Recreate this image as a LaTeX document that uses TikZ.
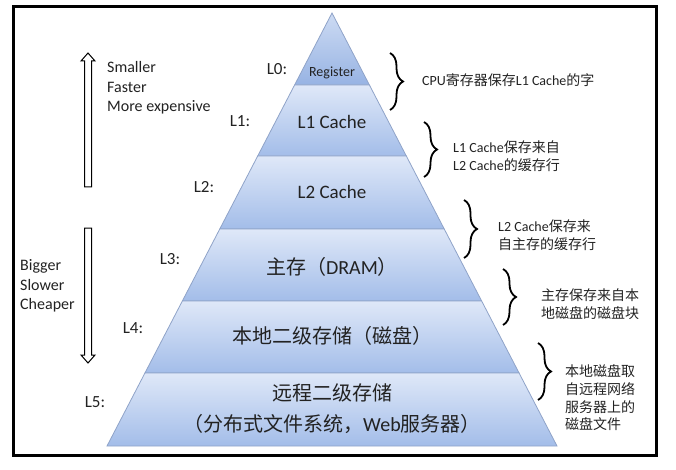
\documentclass[tikz,border=0pt]{standalone}
\usepackage{fontspec}
\setmainfont{Carlito}
\newfontfamily\cjk{Noto Sans CJK SC}
\usepackage{xcolor,tikz}
\usetikzlibrary{decorations.pathreplacing,positioning}
\newcommand{\zh}[1]{{\cjk #1}}
\definecolor{regtop}{HTML}{CDDBF3}
\definecolor{regbot}{HTML}{97B3E3}
\definecolor{bandtop}{HTML}{DFE8F8}
\definecolor{bandbot}{HTML}{A3BDE9}
\definecolor{bandline}{HTML}{8FA3C8}
\definecolor{txt}{HTML}{222222}
\tikzset{
  band/.style={draw=bandline,line width=0.8pt},
  lvl/.style={text=txt,font=\fontsize{17}{19}\selectfont,inner sep=0pt},
  bandcap/.style={text=txt,font=\fontsize{19}{22}\selectfont,inner sep=0pt},
  bandzh/.style={text=txt,font=\fontsize{20}{23}\selectfont,inner sep=0pt},
  side/.style={text=txt,align=left,anchor=west,inner sep=0pt,font=\fontsize{16}{19.5}\selectfont},
  note/.style={text=txt,align=left,anchor=west,inner sep=0pt,font=\fontsize{14}{18}\selectfont},
  notezh/.style={text=txt,align=left,anchor=west,inner sep=0pt,font=\fontsize{14}{17.6}\selectfont},
  brc/.style={decorate,decoration={brace,amplitude=13pt},line width=1.8pt},
  hollow/.style={draw,line width=1pt,fill=white,line join=miter}
}
\begin{document}
\begin{tikzpicture}[x=1pt,y=-1pt]
\useasboundingbox (0,0) rectangle (676,470);
\draw[line width=3pt] (13,7) rectangle (656,455);
\foreach \ya/\yb/\ca/\cb in {13/85/regtop/regbot,85/156/bandtop/bandbot,156/229/bandtop/bandbot,229/301/bandtop/bandbot,301/373/bandtop/bandbot,373/446/bandtop/bandbot}{
  \pgfmathsetmacro{\wa}{(\ya-13)*0.5196}\pgfmathsetmacro{\wb}{(\yb-13)*0.5196}
  \shade[band,top color=\ca,bottom color=\cb] (332-\wa,\ya) -- (332+\wa,\ya) -- (332+\wb,\yb) -- (332-\wb,\yb) -- cycle;
}
\node[text=txt,font=\fontsize{14}{16}\selectfont,inner sep=0pt] (reg) at (332,73){Register};
\node[bandcap] (l1c) at (332,122){L1 Cache};
\node[bandcap] (l2c) at (332,192){L2 Cache};
\node[bandzh] (dram) at (332,267){\zh{主存（}DRAM\zh{）}};
\node[bandzh] (disk) at (332,336){\zh{本地二级存储（磁盘）}};
\node[bandzh] (remote) at (332,393){\zh{远程二级存储}};
\node[bandzh] (remote2) at (332,424){\zh{（分布式文件系统，}Web\zh{服务器）}};
\node[lvl] (lv0) at (277,69){L0:};
\node[lvl] (lv1) at (240,121){L1:};
\node[lvl] (lv2) at (204,187){L2:};
\node[lvl] (lv3) at (170,259){L3:};
\node[lvl] (lv4) at (133,328){L4:};
\node[lvl] (lv5) at (95,402){L5:};
\foreach \x/\ya/\yb in {390/53/110,424/122/177,464/200/258,503/269/325,538/343/400}{
  \draw[brc] (\x,\ya) -- (\x,\yb);
}
\node[note] (n0) at (422,80){CPU\zh{寄存器保存}L1 Cache\zh{的字}};
\node[note] (n1) at (453,156){L1 Cache\zh{保存来自}\\L2 Cache\zh{的缓存行}};
\node[note] (n2) at (498,235){L2 Cache\zh{保存来}\\\zh{自主存的缓存行}};
\node[notezh] (n3) at (541,304){\zh{主存保存来自本}\\\zh{地磁盘的磁盘块}};
\node[notezh] (n4) at (565,398){\zh{本地磁盘取}\\\zh{自远程网络}\\\zh{服务器上的}\\\zh{磁盘文件}};
\draw[hollow] (84.5,187) -- (84.5,61) -- (81,61) -- (88,53) -- (95,61) -- (91.5,61) -- (91.5,187) -- cycle;
\draw[hollow] (84.5,228) -- (84.5,355) -- (81,355) -- (88,363) -- (95,355) -- (91.5,355) -- (91.5,228) -- cycle;
\node[side] (up) at (107,88){Smaller\\Faster\\More expensive};
\node[side] (down) at (20,286){Bigger\\Slower\\Cheaper};
\end{tikzpicture}
\end{document}
